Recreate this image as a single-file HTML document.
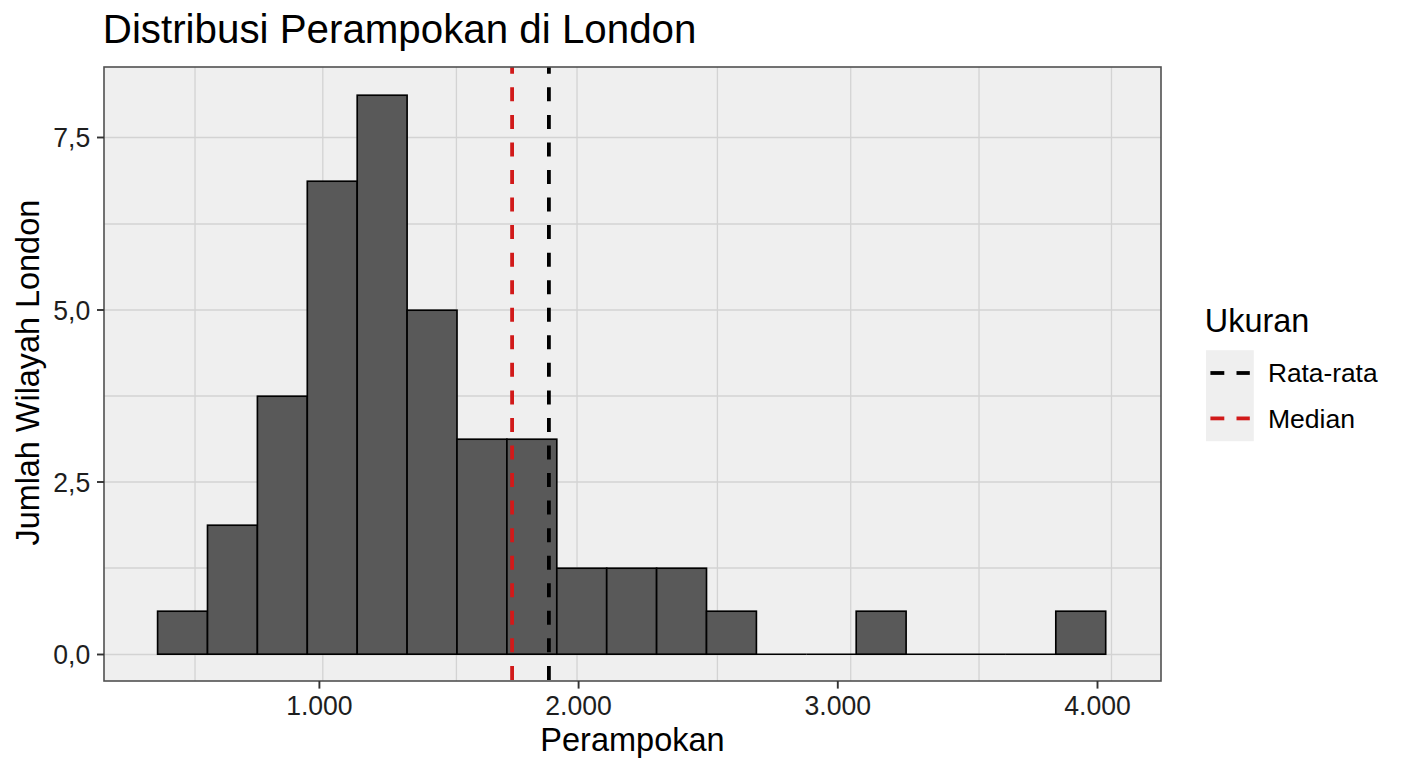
<!DOCTYPE html><html><head><meta charset="utf-8"><style>html,body{margin:0;padding:0;background:#fff;width:1408px;height:768px;overflow:hidden}svg{display:block}text{font-family:"Liberation Sans",sans-serif}</style></head><body>
<svg width="1408" height="768" viewBox="0 0 1408 768">
<rect x="0" y="0" width="1408" height="768" fill="#ffffff"/>
<rect x="104" y="67" width="1057" height="614" fill="#efefef"/>
<line x1="195" y1="67" x2="195" y2="681" stroke="#d3d3d3" stroke-width="1.3"/>
<line x1="322.8" y1="67" x2="322.8" y2="681" stroke="#d3d3d3" stroke-width="1.3"/>
<line x1="456.4" y1="67" x2="456.4" y2="681" stroke="#d3d3d3" stroke-width="1.3"/>
<line x1="577" y1="67" x2="577" y2="681" stroke="#d3d3d3" stroke-width="1.3"/>
<line x1="717.4" y1="67" x2="717.4" y2="681" stroke="#d3d3d3" stroke-width="1.3"/>
<line x1="850.7" y1="67" x2="850.7" y2="681" stroke="#d3d3d3" stroke-width="1.3"/>
<line x1="979" y1="67" x2="979" y2="681" stroke="#d3d3d3" stroke-width="1.3"/>
<line x1="1111.5" y1="67" x2="1111.5" y2="681" stroke="#d3d3d3" stroke-width="1.3"/>
<line x1="104" y1="137.5" x2="1161" y2="137.5" stroke="#d3d3d3" stroke-width="1.3"/>
<line x1="104" y1="224" x2="1161" y2="224" stroke="#d3d3d3" stroke-width="1.3"/>
<line x1="104" y1="310" x2="1161" y2="310" stroke="#d3d3d3" stroke-width="1.3"/>
<line x1="104" y1="396" x2="1161" y2="396" stroke="#d3d3d3" stroke-width="1.3"/>
<line x1="104" y1="482" x2="1161" y2="482" stroke="#d3d3d3" stroke-width="1.3"/>
<line x1="104" y1="568" x2="1161" y2="568" stroke="#d3d3d3" stroke-width="1.3"/>
<line x1="104" y1="654.5" x2="1161" y2="654.5" stroke="#d3d3d3" stroke-width="1.3"/>
<rect x="157.6" y="611.2" width="49.9" height="43.0" fill="#595959" stroke="#000" stroke-width="1.65"/>
<rect x="207.5" y="525.2" width="49.9" height="129.0" fill="#595959" stroke="#000" stroke-width="1.65"/>
<rect x="257.4" y="396.2" width="49.9" height="258.0" fill="#595959" stroke="#000" stroke-width="1.65"/>
<rect x="307.3" y="181.2" width="49.9" height="473.0" fill="#595959" stroke="#000" stroke-width="1.65"/>
<rect x="357.2" y="95.2" width="49.9" height="559.0" fill="#595959" stroke="#000" stroke-width="1.65"/>
<rect x="407.1" y="310.2" width="49.9" height="344.0" fill="#595959" stroke="#000" stroke-width="1.65"/>
<rect x="457.0" y="439.2" width="49.9" height="215.0" fill="#595959" stroke="#000" stroke-width="1.65"/>
<rect x="506.9" y="439.2" width="49.9" height="215.0" fill="#595959" stroke="#000" stroke-width="1.65"/>
<rect x="556.8" y="568.2" width="49.9" height="86.0" fill="#595959" stroke="#000" stroke-width="1.65"/>
<rect x="606.7" y="568.2" width="49.9" height="86.0" fill="#595959" stroke="#000" stroke-width="1.65"/>
<rect x="656.6" y="568.2" width="49.9" height="86.0" fill="#595959" stroke="#000" stroke-width="1.65"/>
<rect x="706.5" y="611.2" width="49.9" height="43.0" fill="#595959" stroke="#000" stroke-width="1.65"/>
<line x1="756.4" y1="654.2" x2="806.3" y2="654.2" stroke="#000" stroke-width="1.65"/>
<line x1="806.3" y1="654.2" x2="856.2" y2="654.2" stroke="#000" stroke-width="1.65"/>
<rect x="856.2" y="611.2" width="49.9" height="43.0" fill="#595959" stroke="#000" stroke-width="1.65"/>
<line x1="906.1" y1="654.2" x2="956.0" y2="654.2" stroke="#000" stroke-width="1.65"/>
<line x1="956.0" y1="654.2" x2="1005.9" y2="654.2" stroke="#000" stroke-width="1.65"/>
<line x1="1005.9" y1="654.2" x2="1055.8" y2="654.2" stroke="#000" stroke-width="1.65"/>
<rect x="1055.8" y="611.2" width="49.9" height="43.0" fill="#595959" stroke="#000" stroke-width="1.65"/>
<line x1="512.1" y1="59.8" x2="512.1" y2="681" stroke="#d11a1a" stroke-width="3.8" stroke-dasharray="14 13.55"/>
<line x1="548.9" y1="59.8" x2="548.9" y2="681" stroke="#000000" stroke-width="3.8" stroke-dasharray="14 13.55"/>
<rect x="104" y="57" width="1057" height="10" fill="#fff"/>
<rect x="104" y="67" width="1057" height="614" fill="none" stroke="#505050" stroke-width="1.6"/>
<line x1="97" y1="137.5" x2="104" y2="137.5" stroke="#333" stroke-width="1.9"/>
<text transform="translate(90.2 147.3) scale(1 1.06)" font-size="26.6" fill="#1e1e1e" text-anchor="end">7,5</text>
<line x1="97" y1="310" x2="104" y2="310" stroke="#333" stroke-width="1.9"/>
<text transform="translate(90.2 319.8) scale(1 1.06)" font-size="26.6" fill="#1e1e1e" text-anchor="end">5,0</text>
<line x1="97" y1="482" x2="104" y2="482" stroke="#333" stroke-width="1.9"/>
<text transform="translate(90.2 491.8) scale(1 1.06)" font-size="26.6" fill="#1e1e1e" text-anchor="end">2,5</text>
<line x1="97" y1="654.5" x2="104" y2="654.5" stroke="#333" stroke-width="1.9"/>
<text transform="translate(90.2 664.3) scale(1 1.06)" font-size="26.6" fill="#1e1e1e" text-anchor="end">0,0</text>
<line x1="319.4" y1="681" x2="319.4" y2="688.6" stroke="#333" stroke-width="1.9"/>
<text transform="translate(319.4 714.9) scale(1 1.07)" font-size="26.6" fill="#1e1e1e" text-anchor="middle">1.000</text>
<line x1="578.6" y1="681" x2="578.6" y2="688.6" stroke="#333" stroke-width="1.9"/>
<text transform="translate(578.6 714.9) scale(1 1.07)" font-size="26.6" fill="#1e1e1e" text-anchor="middle">2.000</text>
<line x1="837.8" y1="681" x2="837.8" y2="688.6" stroke="#333" stroke-width="1.9"/>
<text transform="translate(837.8 714.9) scale(1 1.07)" font-size="26.6" fill="#1e1e1e" text-anchor="middle">3.000</text>
<line x1="1097.5" y1="681" x2="1097.5" y2="688.6" stroke="#333" stroke-width="1.9"/>
<text transform="translate(1097.5 714.9) scale(1 1.07)" font-size="26.6" fill="#1e1e1e" text-anchor="middle">4.000</text>
<text x="102.8" y="43" font-size="40.3" fill="#000">Distribusi Perampokan di London</text>
<text x="632.5" y="750.8" font-size="32.5" fill="#000" text-anchor="middle">Perampokan</text>
<text transform="translate(38.75 372.7) rotate(-90)" x="0" y="0" font-size="32.4" fill="#000" text-anchor="middle">Jumlah Wilayah London</text>
<text x="1204.8" y="332" font-size="32.4" fill="#000">Ukuran</text>
<rect x="1206" y="350.2" width="47.8" height="91" fill="#efefef"/>
<line x1="1210.4" y1="373" x2="1224.3" y2="373" stroke="#000" stroke-width="3.8"/>
<line x1="1236.5" y1="373" x2="1249.8" y2="373" stroke="#000" stroke-width="3.8"/>
<line x1="1210.4" y1="418.4" x2="1224.3" y2="418.4" stroke="#d11a1a" stroke-width="3.8"/>
<line x1="1236.5" y1="418.4" x2="1249.8" y2="418.4" stroke="#d11a1a" stroke-width="3.8"/>
<text x="1267.9" y="382.2" font-size="26.3" fill="#000">Rata-rata</text>
<text x="1267.9" y="427.6" font-size="26.6" fill="#000">Median</text>
</svg></body></html>
